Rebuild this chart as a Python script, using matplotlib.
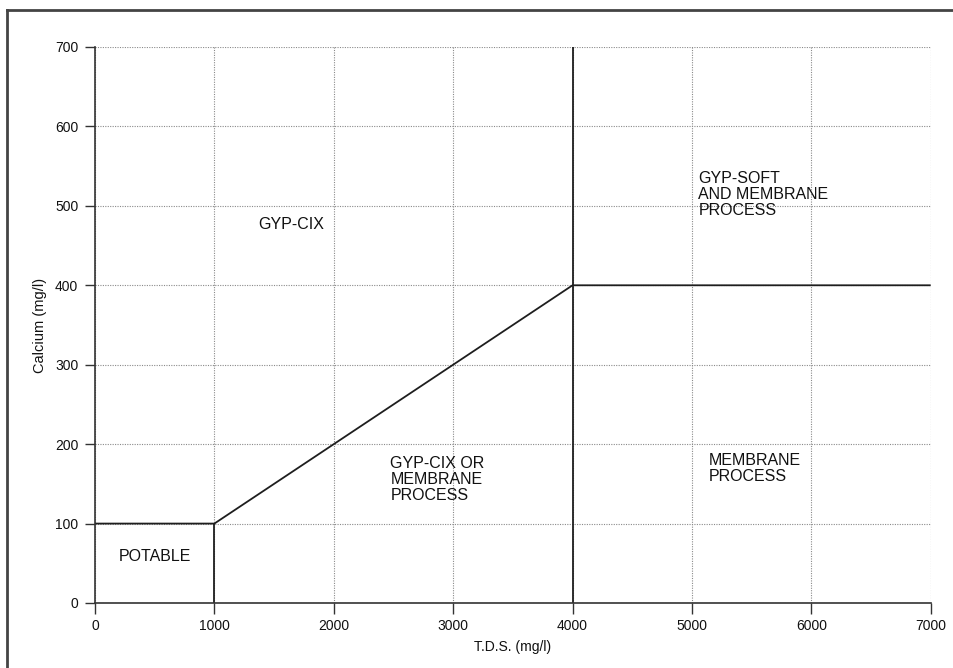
import matplotlib.pyplot as plt
from matplotlib.lines import Line2D

plt.rcParams['font.family'] = ['Liberation Sans', 'DejaVu Sans']

# boundary between regions (T.D.S. vs calcium)
tds_boundary = [0, 1000, 4000, 7000]
ca_boundary = [100, 100, 400, 400]

# vertical dividers: (x, y top)
dividers_x = [1000, 4000]
dividers_top = [100, 700]

xticks = [0, 1000, 2000, 3000, 4000, 5000, 6000, 7000]
yticks = [0, 100, 200, 300, 400, 500, 600, 700]

region_labels = ["POTABLE", "GYP-CIX", "GYP-CIX OR\nMEMBRANE\nPROCESS",
                 "GYP-SOFT\nAND MEMBRANE\nPROCESS", "MEMBRANE\nPROCESS"]
region_x = [200, 1370, 2475, 5055, 5140]
region_y = [58, 477, 156, 514, 169]

fig = plt.figure(figsize=(9.54, 6.68), dpi=100)
ax = fig.add_axes([95/954, 65/668, 835.7/954, 556/668])

ax.plot(tds_boundary, ca_boundary, color='#1e1e1e', lw=1.3, solid_capstyle='butt')
for x, top in zip(dividers_x, dividers_top):
    ax.plot([x, x], [0, top], color='#1e1e1e', lw=1.3)

for lab, x, y in zip(region_labels, region_x, region_y):
    ax.text(x, y, lab, ha='left', va='center', fontsize=11.5,
            linespacing=1.08, color='#111111')

ax.set_xlim(0, 7000)
ax.set_ylim(0, 700)
ax.set_xticks(xticks)
ax.set_yticks(yticks)
ax.grid(True, linestyle=(0, (1, 1.2)), color='#8a8a8a', lw=0.8)
ax.set_axisbelow(True)

for s in ['top', 'right']:
    ax.spines[s].set_visible(False)
for s in ['left', 'bottom']:
    ax.spines[s].set_color('#333333')
    ax.spines[s].set_linewidth(1.2)

ax.tick_params(axis='y', direction='out', length=7, width=1, color='#333333',
               pad=5, labelsize=10, labelcolor='#111111')
ax.tick_params(axis='x', direction='out', length=8, width=1, color='#333333',
               pad=3.5, labelsize=10, labelcolor='#111111')

ax.set_xlabel("T.D.S. (mg/l)", fontsize=10, labelpad=5, color='#111111')
ax.set_ylabel("Calcium (mg/l)", fontsize=10.5, labelpad=6, color='#111111')

# scanned page frame (left and top edges)
fig.add_artist(Line2D([7/954, 7/954], [0, 1 - 10/668], transform=fig.transFigure,
                      color='#444444', lw=2))
fig.add_artist(Line2D([7/954, 1], [1 - 10/668, 1 - 10/668], transform=fig.transFigure,
                      color='#444444', lw=2))

fig.savefig("out.png", dpi=100)
